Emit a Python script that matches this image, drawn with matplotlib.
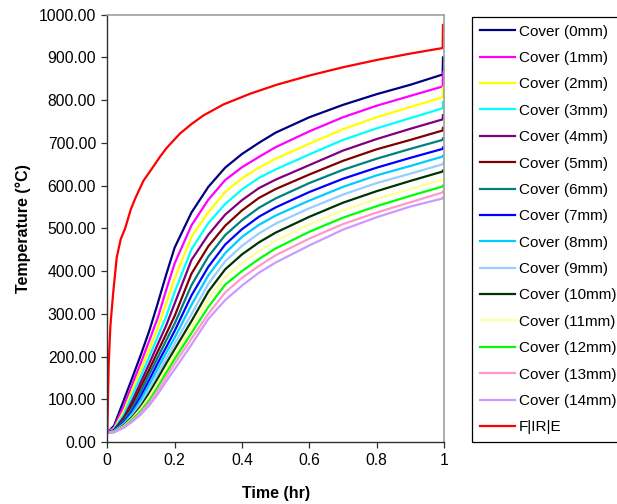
import matplotlib
matplotlib.use("Agg")
import matplotlib.pyplot as plt
from matplotlib.ticker import FormatStrFormatter, FuncFormatter

plt.rcParams["font.family"] = ["Liberation Sans", "DejaVu Sans"]

# Data (time in hr, temperature in degC).
# The last point of each series is the small jump drawn at the right edge.
time_hr = [0, 0.02, 0.05, 0.075, 0.1, 0.125, 0.15, 0.175, 0.2, 0.25, 0.3,
           0.35, 0.4, 0.45, 0.5, 0.6, 0.7, 0.8, 0.9, 0.996, 0.997]

cover_0mm = [22, 38, 100, 152, 205, 261, 325, 392, 455, 537, 597, 642, 674, 700, 724, 760, 789, 814, 836, 860, 900]
cover_1mm = [22, 34, 86, 137, 186, 238, 291, 356, 418, 507, 567, 613, 643, 667, 690, 727, 760, 787, 810, 832, 865]
cover_2mm = [22, 31, 74, 123, 170, 218, 268, 325, 383, 480, 538, 585, 617, 642, 663, 698, 732, 760, 784, 807, 830]
cover_3mm = [22, 30, 66, 111, 155, 200, 247, 294, 351, 451, 512, 557, 591, 618, 638, 673, 707, 734, 758, 781, 795]
cover_4mm = [22, 28, 59, 98, 141, 184, 229, 273, 324, 426, 485, 532, 566, 594, 614, 648, 682, 709, 733, 755, 765]
cover_5mm = [22, 27, 55, 89, 130, 170, 212, 253, 295, 394, 458, 506, 542, 571, 592, 626, 658, 685, 707, 729, 735]
cover_6mm = [22, 26, 51, 81, 119, 159, 198, 238, 277, 367, 434, 484, 519, 548, 570, 606, 637, 663, 686, 707, 711]
cover_7mm = [22, 26, 47, 73, 108, 146, 185, 222, 260, 343, 410, 462, 498, 527, 549, 585, 616, 642, 665, 686, 689]
cover_8mm = [22, 25, 44, 68, 99, 135, 172, 209, 244, 321, 390, 442, 480, 508, 530, 565, 597, 624, 646, 668, 670]
cover_9mm = [22, 25, 42, 63, 90, 124, 160, 196, 230, 299, 370, 423, 459, 488, 511, 547, 579, 606, 628, 650, 652]
cover_10mm = [22, 24, 40, 59, 84, 115, 149, 184, 217, 283, 352, 404, 439, 467, 490, 527, 560, 587, 611, 633, 635]
cover_11mm = [22, 24, 38, 56, 79, 107, 139, 172, 205, 268, 335, 386, 419, 446, 471, 509, 542, 569, 592, 614, 616]
cover_12mm = [22, 23, 36, 53, 73, 98, 129, 162, 194, 255, 316, 368, 400, 428, 453, 492, 525, 552, 576, 598, 600]
cover_13mm = [22, 23, 35, 50, 69, 92, 121, 152, 183, 242, 300, 350, 384, 412, 437, 476, 510, 537, 561, 584, 586]
cover_14mm = [22, 23, 34, 48, 65, 86, 112, 142, 170, 228, 288, 332, 366, 396, 420, 460, 497, 526, 551, 570, 572]

fire_time = [0, 0.004, 0.009, 0.017, 0.028, 0.04, 0.053, 0.07, 0.083, 0.107, 0.137, 0.157,
             0.176, 0.216, 0.25, 0.285, 0.345, 0.424, 0.503, 0.602, 0.70, 0.80, 0.90, 0.996, 0.997]
fire_temp = [22, 180, 270, 345, 432, 475, 500, 545, 570, 611, 645, 668,
             688, 722, 744, 764, 790, 815, 836, 858, 877, 894, 909, 922, 976]

cover_labels = [f"Cover ({i}mm)" for i in range(15)]
cover_series = [cover_0mm, cover_1mm, cover_2mm, cover_3mm, cover_4mm, cover_5mm,
                cover_6mm, cover_7mm, cover_8mm, cover_9mm, cover_10mm, cover_11mm,
                cover_12mm, cover_13mm, cover_14mm]
cover_colors = ["#000080", "#FF00FF", "#FFFF00", "#00FFFF", "#800080", "#800000",
                "#008080", "#0000FF", "#00CCFF", "#99CCFF", "#003300", "#FFFF99",
                "#00FF00", "#FF99CC", "#CC99FF"]

fig = plt.figure(figsize=(6.17, 5.04), dpi=100)
ax = fig.add_axes([107.3 / 617, 1 - 442 / 504, 336.7 / 617, 427.3 / 504])

for vals, lab, col in zip(cover_series, cover_labels, cover_colors):
    ax.plot(time_hr, vals, color=col, lw=1.6, label=lab)
ax.plot(fire_time, fire_temp, color="#FF0000", lw=1.6, label="F|IR|E")

ax.set_xlim(0, 1)
ax.set_ylim(0, 1000)
ax.set_xticks([0, 0.2, 0.4, 0.6, 0.8, 1.0])
ax.set_yticks(range(0, 1001, 100))
ax.xaxis.set_major_formatter(FuncFormatter(lambda v, p: f"{v:g}"))
ax.yaxis.set_major_formatter(FormatStrFormatter("%.2f"))
ax.tick_params(direction="out", length=4, width=0.9, labelsize=11.3, pad=4, color="#303030")

for side in ("left", "bottom"):
    ax.spines[side].set_color("#303030")
    ax.spines[side].set_linewidth(1.0)
for side in ("top", "right"):
    ax.spines[side].set_color("#a0a0a0")
    ax.spines[side].set_linewidth(1.2)

ax.set_xlabel("Time (hr)", fontsize=11.5, fontweight="bold")
ax.set_ylabel("Temperature (°C)", fontsize=11.5, fontweight="bold")
ax.xaxis.set_label_coords(0.5, -0.103)
ax.yaxis.set_label_coords(-0.228, 0.5)

leg = fig.legend(loc="upper left", bbox_to_anchor=(472 / 617, 1 - 17 / 504),
                 fontsize=11, frameon=True, fancybox=False, shadow=False,
                 borderpad=0.5, labelspacing=0.81, handlelength=2.3,
                 handletextpad=0.28, borderaxespad=0)
leg.get_frame().set_edgecolor("black")
leg.get_frame().set_linewidth(0.9)
leg.get_frame().set_alpha(1)

fig.savefig("out.png", dpi=100)
